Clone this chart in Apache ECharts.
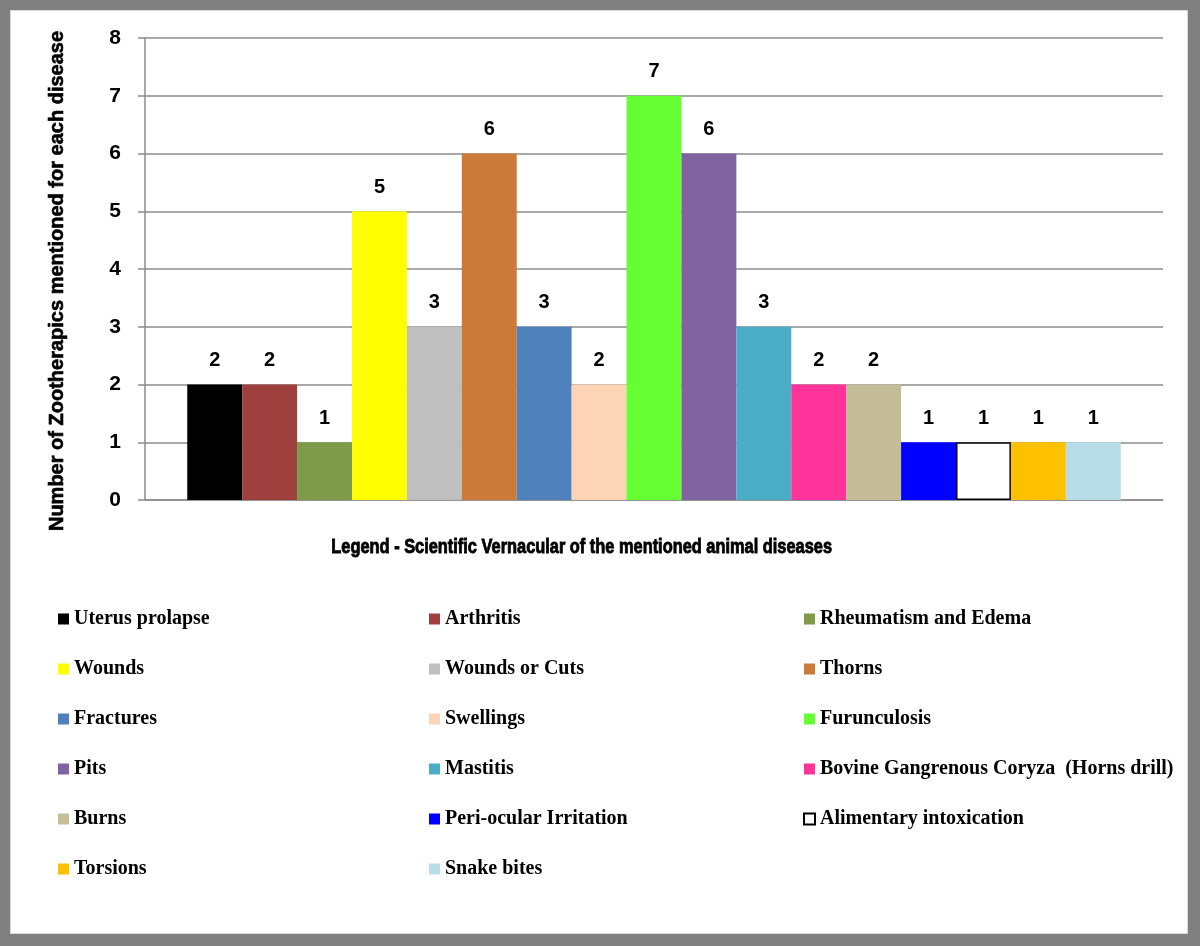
<!DOCTYPE html>
<html>
<head>
<meta charset="utf-8">
<script src="https://cdn.jsdelivr.net/npm/echarts@6/dist/echarts.min.js"></script>
<style>
  html, body { margin: 0; padding: 0; width: 1200px; height: 946px; background: #808080; overflow: hidden; }
  #frame { position: absolute; left: 10px; top: 10px; width: 1176px; height: 922px; background: #fff; border: 1px solid #d8d8d8; }
  #chart { position: absolute; left: 0; top: 0; width: 1176px; height: 922px; }
</style>
</head>
<body>
<div id="frame"><div id="chart"></div></div>
<script>
const categories = ['Diseases'];
const diseases = [
  'Uterus prolapse', 'Arthritis', 'Rheumatism and Edema',
  'Wounds', 'Wounds or Cuts', 'Thorns',
  'Fractures', 'Swellings', 'Furunculosis',
  'Pits', 'Mastitis', 'Bovine Gangrenous Coryza  (Horns drill)',
  'Burns', 'Peri-ocular Irritation', 'Alimentary intoxication',
  'Torsions', 'Snake bites'
];
const counts = [2, 2, 1, 5, 3, 6, 3, 2, 7, 6, 3, 2, 2, 1, 1, 1, 1];
const colors = [
  '#000000', '#9E413E', '#7F9A48',
  '#FFFF00', '#BFBFBF', '#CC7A3A',
  '#4F81BD', '#FBD5B5', '#66FF33',
  '#8064A2', '#4BACC6', '#FF3399',
  '#C4BD97', '#0000FF', '#FFFFFF',
  '#FFC000', '#B7DEE8'
];
const yTicks = [0, 1, 2, 3, 4, 5, 6, 7, 8];

const chart = echarts.init(document.getElementById('chart'), null, { renderer: 'canvas' });

const series = diseases.map((name, i) => ({
  type: 'bar',
  name: name,
  data: [counts[i]],
  barGap: '0%',
  barCategoryGap: '8.3%',
  itemStyle: {
    color: colors[i],
    borderColor: name === 'Alimentary intoxication' ? '#000' : colors[i],
    borderWidth: name === 'Alimentary intoxication' ? 1.5 : 0
  },
  label: {
    show: true,
    position: 'top',
    distance: 14,
    color: '#000',
    fontFamily: 'Liberation Sans, Arial, sans-serif',
    fontWeight: 'bold',
    fontSize: 20
  }
}));

const legendBase = {
  orient: 'vertical',
  icon: 'rect',
  itemWidth: 11,
  itemHeight: 11,
  itemGap: 30,
  padding: 0,
  selectedMode: false,
  textStyle: {
    fontFamily: 'Liberation Serif, Times New Roman, serif',
    fontWeight: 'bold',
    fontSize: 20,
    color: '#000',
    lineHeight: 20
  },
  top: 598
};
const col = k => diseases.filter((_, i) => i % 3 === k);

chart.setOption({
  animation: false,
  backgroundColor: '#fff',
  graphic: [{
    type: 'text',
    left: 320,
    top: 525,
    scaleX: 0.78,
    style: {
      text: 'Legend - Scientific Vernacular of the mentioned animal diseases',
      font: 'bold 21px "Liberation Sans", Arial, sans-serif',
      fill: '#000',
      stroke: '#000',
      lineWidth: 0.9
    }
  }],
  grid: { left: 134, right: 24, top: 27, bottom: 433, containLabel: false },
  legend: [
    Object.assign({}, legendBase, { left: 47, data: col(0) }),
    Object.assign({}, legendBase, { left: 418, data: col(1) }),
    Object.assign({}, legendBase, { left: 792, data: col(2) })
  ],
  xAxis: {
    type: 'category',
    data: categories,
    axisLine: { show: true, lineStyle: { color: '#8c8c8c', width: 1.5 } },
    axisTick: { show: false },
    axisLabel: { show: false }
  },
  yAxis: {
    type: 'value',
    min: 0,
    max: 8,
    interval: 1,
    name: 'Number of Zootherapics mentioned for each disease',
    nameLocation: 'middle',
    nameGap: 78,
    nameTextStyle: {
      fontFamily: 'Liberation Sans, Arial, sans-serif',
      fontWeight: 'bold',
      fontSize: 20,
      color: '#000',
      textBorderColor: '#000',
      textBorderWidth: 0.6,
      padding: [0, 24, 0, 0]
    },
    axisLine: { show: true, lineStyle: { color: '#8c8c8c', width: 1.5 } },
    axisTick: { show: true, length: 7, lineStyle: { color: '#8c8c8c', width: 1.5 } },
    axisLabel: {
      margin: 24,
      color: '#000',
      fontFamily: 'Liberation Sans, Arial, sans-serif',
      fontWeight: 'bold',
      fontSize: 21,
      formatter: v => String(yTicks[v] !== undefined ? yTicks[v] : v)
    },
    splitLine: { show: true, lineStyle: { color: '#8c8c8c', width: 1.5 } }
  },
  series: series
});
</script>
</body>
</html>
